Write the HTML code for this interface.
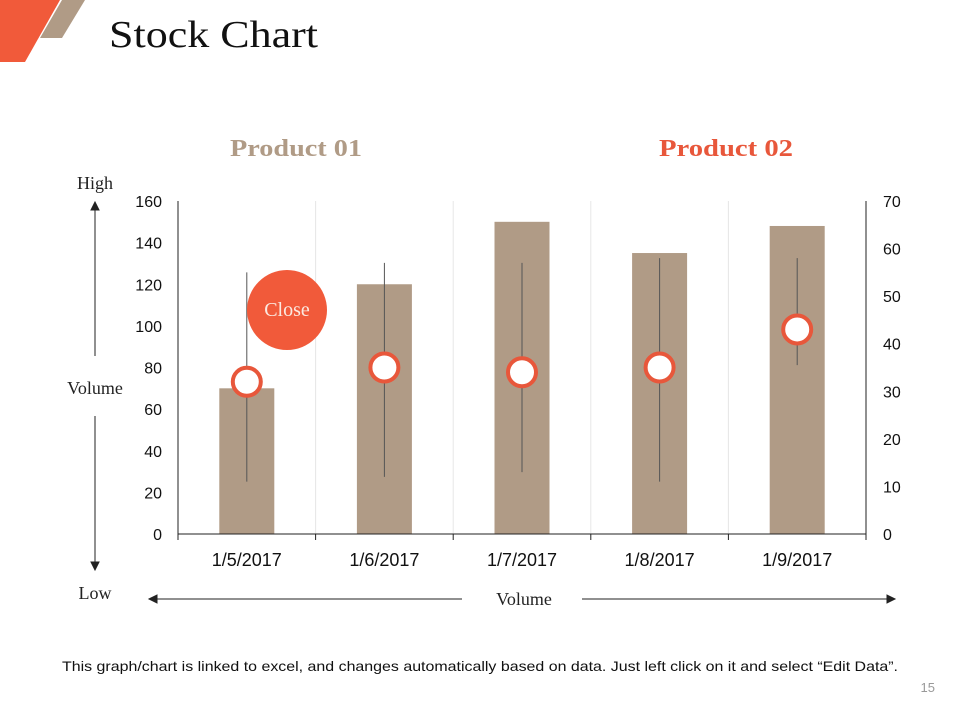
<!DOCTYPE html>
<html><head><meta charset="utf-8"><style>
body{margin:0;width:960px;height:720px;background:#fff;overflow:hidden;position:relative;font-family:"Liberation Sans",sans-serif}
</style></head><body>
<svg width="960" height="720" style="position:absolute;left:0;top:0">
<polygon points="0,0 60,0 25,62 0,62" fill="#f15a3a"/>
<polygon points="62,0 85,0 62,38 40,38" fill="#b09b86"/>
<text x="109" y="47" font-family="Liberation Serif" font-size="38" fill="#111" textLength="209" lengthAdjust="spacingAndGlyphs">Stock Chart</text>
<text x="230" y="156" font-family="Liberation Serif" font-weight="bold" font-size="24" fill="#b09b86" textLength="132" lengthAdjust="spacingAndGlyphs">Product 01</text>
<text x="659" y="156" font-family="Liberation Serif" font-weight="bold" font-size="24" fill="#e8573b" textLength="134" lengthAdjust="spacingAndGlyphs">Product 02</text>
<g id="chart"></g>
<text x="95" y="189" text-anchor="middle" font-family="Liberation Serif" font-size="18" fill="#222">High</text>
<text x="95" y="394" text-anchor="middle" font-family="Liberation Serif" font-size="18" fill="#222">Volume</text>
<text x="95" y="599" text-anchor="middle" font-family="Liberation Serif" font-size="18" fill="#222">Low</text>
<g stroke="#222" stroke-width="1" fill="#222">
<line x1="95" y1="207" x2="95" y2="356"/><polygon points="95,202 91,210 99,210"/>
<line x1="95" y1="416" x2="95" y2="565"/><polygon points="95,570 91,562 99,562"/>
</g>
<text x="524" y="605" text-anchor="middle" font-family="Liberation Serif" font-size="18" fill="#222">Volume</text>
<g stroke="#222" stroke-width="1" fill="#222">
<line x1="154" y1="599" x2="462" y2="599"/><polygon points="149,599 157,595 157,603"/>
<line x1="582" y1="599" x2="890" y2="599"/><polygon points="895,599 887,595 887,603"/>
</g>
<circle cx="287" cy="310" r="40" fill="#f15a3a"/>
<text x="287" y="316" text-anchor="middle" font-family="Liberation Serif" font-size="20" fill="#fbe9e0">Close</text>
<text x="62" y="671" font-size="14" fill="#111" textLength="836" lengthAdjust="spacingAndGlyphs">This graph/chart is linked to excel, and changes automatically based on data. Just left click on it and select “Edit Data”.</text>
<text x="935" y="692" text-anchor="end" font-size="13" fill="#999">15</text>
</svg>
<script>
const categories=["1/5/2017","1/6/2017","1/7/2017","1/8/2017","1/9/2017"];
const volume=[70,120,150,135,148];
const high=[55,57,57,58,58];
const low=[11,12,13,11,35.5];
const close=[32,35,34,35,43];
const leftTicks=[0,20,40,60,80,100,120,140,160];
const rightTicks=[0,10,20,30,40,50,60,70];
const NS="http://www.w3.org/2000/svg";
const g=document.getElementById('chart');
const X0=178,X1=866,Y0=534,Y1=201;
const band=(X1-X0)/categories.length;
const xc=i=>X0+band*(i+0.5);
const yL=v=>Y0-(v/160)*(Y0-Y1);
const yR=v=>Y0-(v/70)*(Y0-Y1);
function mk(t,a,p){const e=document.createElementNS(NS,t);for(const k in a)e.setAttribute(k,a[k]);(p||g).appendChild(e);return e;}
for(let i=1;i<categories.length;i++){const l=mk('line',{x1:X0+band*i,x2:X0+band*i,y1:Y1,y2:Y0,stroke:'#e6e6e6'});

}
categories.forEach((c,i)=>{
const b=mk('rect',{x:xc(i)-27.5,y:yL(volume[i]),width:55,height:Y0-yL(volume[i]),fill:'#b09b86'});


});
mk('line',{x1:X0,x2:X0,y1:Y1,y2:Y0,stroke:'#222'});
mk('line',{x1:X1,x2:X1,y1:Y1,y2:Y0,stroke:'#222'});
mk('line',{x1:X0,x2:X1,y1:Y0,y2:Y0,stroke:'#222'});
for(let i=0;i<=categories.length;i++)mk('line',{x1:X0+band*i,x2:X0+band*i,y1:Y0,y2:Y0+6,stroke:'#222'});
leftTicks.forEach(v=>{const t=mk('text',{x:162,y:yL(v)+6,'text-anchor':'end','font-size':16,fill:'#111'});t.textContent=v;

});
rightTicks.forEach(v=>{const t=mk('text',{x:883,y:yR(v)+6,'font-size':16,fill:'#111'});t.textContent=v;

});
categories.forEach((c,i)=>{const t=mk('text',{x:xc(i),y:566,'text-anchor':'middle','font-size':18,fill:'#111'});t.textContent=c;

});
categories.forEach((c,i)=>{
const l=mk('line',{x1:xc(i),x2:xc(i),y1:yR(high[i]),y2:yR(low[i]),stroke:'#555','stroke-width':1});


const m=mk('circle',{cx:xc(i),cy:yR(close[i]),r:14,fill:'#fff',stroke:'#e8573b','stroke-width':4});


});
</script>
</body></html>
